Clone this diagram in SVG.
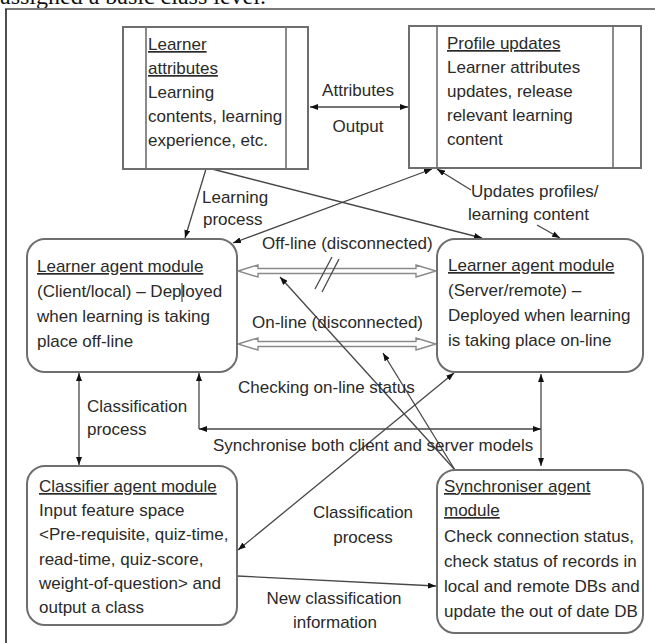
<svg xmlns="http://www.w3.org/2000/svg" width="655" height="643" viewBox="0 0 655 643">
<style>
text{font-family:"Liberation Sans",Arial,sans-serif;font-size:17px;fill:#2a2a2a}
.h{text-decoration:underline}
.box{fill:#fff;stroke:#6e6e6e;stroke-width:2}
.inner{stroke:#6e6e6e;stroke-width:1.6}
.c{stroke:#474747;stroke-width:1.3;fill:none}
.hollow{fill:#fff;stroke:#8a8a8a;stroke-width:1.4}
.mid{text-anchor:middle}
</style>
<defs>
<marker id="ah" viewBox="0 0 8 6" refX="8" refY="3" markerWidth="8" markerHeight="6" markerUnits="userSpaceOnUse" orient="auto-start-reverse">
<path d="M0,0 L8,3 L0,6 z" fill="#111"/>
</marker>
</defs>
<rect width="655" height="643" fill="#fff"/>
<text x="0" y="4" style="font-family:'Liberation Serif',serif;font-size:24px;fill:#111">assigned a basic class level.</text>
<line x1="5" y1="9" x2="655" y2="9" stroke="#7a7a7a" stroke-width="2"/>
<line x1="6" y1="9" x2="6" y2="643" stroke="#222" stroke-width="1.6"/>

<g id="connectors">
<line class="c" x1="310" y1="107" x2="408" y2="107" marker-start="url(#ah)" marker-end="url(#ah)"/>
<line class="c" x1="206" y1="169" x2="185" y2="238" marker-end="url(#ah)"/>
<line class="c" x1="212" y1="169" x2="482" y2="238" marker-end="url(#ah)"/>
<line class="c" x1="233" y1="243" x2="432" y2="169" marker-start="url(#ah)" marker-end="url(#ah)"/>
<line class="c" x1="471" y1="190" x2="437" y2="169" marker-end="url(#ah)"/>
<line class="c" x1="537" y1="225" x2="560" y2="238" marker-end="url(#ah)"/>
<polygon class="hollow" points="238,271 258,265 258,268.5 416,268.5 416,265 436,271 416,277 416,273.5 258,273.5 258,277"/>
<polygon class="hollow" points="238,344 258,338 258,341.5 416,341.5 416,338 436,344 416,350 416,346.5 258,346.5 258,350"/>
<line class="c" x1="315" y1="289" x2="332" y2="257"/>
<line class="c" x1="322" y1="292" x2="339" y2="259"/>
<line class="c" x1="455" y1="470" x2="280" y2="277" marker-end="url(#ah)"/>
<line class="c" x1="455" y1="470" x2="383" y2="353" marker-end="url(#ah)"/>
<line class="c" x1="79" y1="373" x2="79" y2="465" marker-start="url(#ah)" marker-end="url(#ah)"/>
<line class="c" x1="199" y1="429" x2="199" y2="373" marker-end="url(#ah)"/>
<line class="c" x1="199" y1="429" x2="541" y2="429" marker-start="url(#ah)" marker-end="url(#ah)"/>
<line class="c" x1="541" y1="374" x2="541" y2="466" marker-start="url(#ah)" marker-end="url(#ah)"/>
<line class="c" x1="454" y1="373" x2="238" y2="550" marker-start="url(#ah)" marker-end="url(#ah)"/>
<line class="c" x1="237" y1="576" x2="436" y2="586" marker-end="url(#ah)"/>
</g>

<g id="labels">
<text class="mid" x="358" y="96">Attributes</text>
<text class="mid" x="358" y="132">Output</text>
<text x="202" y="203">Learning</text>
<text x="203" y="225">process</text>
<text x="471" y="197">Updates profiles/</text>
<text x="468" y="220">learning content</text>
<text x="262" y="249">Off-line (disconnected)</text>
<text x="252" y="328">On-line (disconnected)</text>
<text x="238" y="393">Checking on-line status</text>
<text x="87" y="412">Classification</text>
<text x="87" y="435">process</text>
<text x="213" y="451">Synchronise both client and server models</text>
<text class="mid" x="363" y="518">Classification</text>
<text class="mid" x="363" y="543">process</text>
<text class="mid" x="334" y="604">New classification</text>
<text class="mid" x="335" y="628">information</text>
</g>

<g id="learner-attributes">
<rect class="box" x="123" y="27" width="185" height="142"/>
<line class="inner" x1="146" y1="27" x2="146" y2="169"/>
<line class="inner" x1="286" y1="27" x2="286" y2="169"/>
<text class="h" x="148" y="50">Learner</text>
<text class="h" x="148" y="74">attributes</text>
<text x="148" y="98">Learning</text>
<text x="148" y="122">contents, learning</text>
<text x="148" y="146">experience, etc.</text>
</g>

<g id="profile-updates">
<rect class="box" x="409" y="26" width="232" height="142"/>
<line class="inner" x1="437" y1="26" x2="437" y2="168"/>
<line class="inner" x1="613" y1="26" x2="613" y2="168"/>
<text class="h" x="447" y="49">Profile updates</text>
<text x="447" y="73">Learner attributes</text>
<text x="447" y="97">updates, release</text>
<text x="447" y="121">relevant learning</text>
<text x="447" y="145">content</text>
</g>

<g id="learner-agent-client">
<rect class="box" x="27" y="239" width="210" height="133" rx="18"/>
<text class="h" x="37" y="272">Learner agent module</text>
<text x="37" y="297">(Client/local) – Deployed</text>
<text x="37" y="322">when learning is taking</text>
<text x="37" y="347">place off-line</text>
<line x1="182" y1="283" x2="182" y2="302" stroke="#222" stroke-width="1"/>
</g>

<g id="learner-agent-server">
<rect class="box" x="437" y="239" width="206" height="133" rx="18"/>
<text class="h" x="448" y="271">Learner agent module</text>
<text x="448" y="296">(Server/remote) –</text>
<text x="448" y="321">Deployed when learning</text>
<text x="448" y="346">is taking place on-line</text>
</g>

<g id="classifier-agent">
<rect class="box" x="27" y="466" width="210" height="159" rx="18"/>
<text class="h" x="39" y="492">Classifier agent module</text>
<text x="39" y="516">Input feature space</text>
<text x="39" y="540">&lt;Pre-requisite, quiz-time,</text>
<text x="39" y="565">read-time, quiz-score,</text>
<text x="39" y="589">weight-of-question&gt; and</text>
<text x="39" y="613">output a class</text>
</g>

<g id="synchroniser-agent">
<rect class="box" x="437" y="470" width="206" height="163" rx="18"/>
<text class="h" x="444" y="492">Synchroniser agent</text>
<text class="h" x="444" y="516">module</text>
<text x="444" y="542">Check connection status,</text>
<text x="444" y="567">check status of records in</text>
<text x="444" y="592">local and remote DBs and</text>
<text x="444" y="617">update the out of date DB</text>
</g>
</svg>
